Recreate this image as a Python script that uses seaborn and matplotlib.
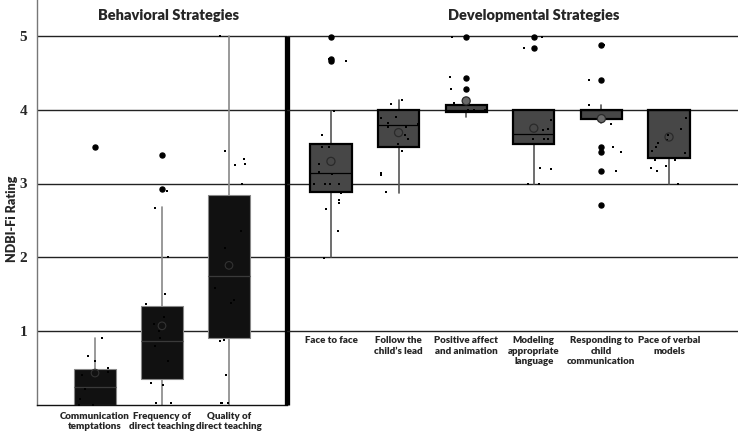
import numpy as np
import pandas as pd
import matplotlib
matplotlib.use("Agg")
import matplotlib.pyplot as plt
import seaborn as sns

# ---------------- data ----------------
left_cats = ["Communication\ntemptations", "Frequency of\ndirect teaching", "Quality of\ndirect teaching"]
right_cats = ["Face to face", "Follow the\nchild\u2019s lead", "Positive affect\nand animation",
              "Modeling\nappropriate\nlanguage", "Responding to\nchild\ncommunication", "Pace of verbal\nmodels"]

left_q1 = [0.0, 0.35, 0.91]
left_med = [0.24, 0.87, 1.74]
left_q3 = [0.49, 1.34, 2.85]
left_wlo = [0.0, 0.0, 0.0]
left_whi = [0.91, 2.68, 5.0]
left_mean = [0.43, 1.07, 1.89]
left_out = [[3.5], [3.38, 2.92], []]
left_pts = [
    [3.5, 0.91, 0.66, 0.59, 0.50, 0.45, 0.40, 0.21, 0.08, 0.0, 0.0],
    [3.38, 2.90, 2.67, 2.0, 1.50, 1.37, 1.19, 1.09, 1.0, 0.79, 0.6, 0.9, 0.29, 0.27, 0.03, 0.03],
    [5.0, 3.44, 3.33, 3.27, 3.25, 3.0, 2.35, 2.13, 1.58, 1.42, 1.38, 0.88, 0.86, 0.40, 0.02, 0.02, 0.02],
]

right_q1 = [2.89, 3.50, 3.97, 3.54, 3.87, 3.35]
right_med = [3.14, 3.79, 4.0, 3.67, 4.0, 4.0]
right_q3 = [3.54, 4.0, 4.07, 4.0, 4.0, 4.0]
right_wlo = [2.0, 2.87, 3.90, 3.0, 3.82, 3.0]
right_whi = [3.98, 4.13, 4.07, 4.0, 4.07, 4.0]
right_mean = [3.30, 3.69, 4.12, 3.75, 3.88, 3.63]
right_out = [[4.98, 4.69, 4.66], [], [4.98, 4.43, 4.28], [4.98, 4.84],
             [4.88, 4.40, 3.49, 3.43, 3.17, 2.71], []]
right_pts = [
    [4.69, 4.66, 3.98, 3.66, 3.50, 3.50, 3.26, 3.15, 3.13, 2.99, 2.99, 2.99, 2.99, 2.87, 2.77, 2.74, 2.65, 2.36, 1.99],
    [4.13, 4.08, 3.90, 3.89, 3.82, 3.81, 3.76, 3.76, 3.66, 3.60, 3.53, 3.44, 3.14, 3.12, 2.88],
    [4.98, 4.44, 4.28, 4.15, 4.09, 4.0, 4.0, 4.0],
    [4.98, 4.84, 3.86, 3.74, 3.73, 3.60, 3.60, 3.60, 3.21, 3.19, 3.0, 3.0],
    [4.88, 4.40, 4.07, 3.81, 3.49, 3.43, 3.17, 2.71, 4.0, 4.0],
    [3.89, 3.74, 3.66, 3.59, 3.55, 3.50, 3.44, 3.41, 3.32, 3.32, 3.24, 3.21, 3.17, 2.99],
]

y_ticks = [1, 2, 3, 4, 5]

# ---------------- style ----------------
sns.set_style("white")
plt.rcParams["font.family"] = ["Lato", "DejaVu Sans"]
np.random.seed(3)
FW = "heavy"

W, H = 738, 434
fig = plt.figure(figsize=(W / 100, H / 100), dpi=100)
y0 = 404.75
bottom = 1 - y0 / H
height = y0 / H
ymax = y0 / 73.75

ax1 = fig.add_axes([37 / W, bottom, 250 / W, height])
ax2 = fig.add_axes([287 / W, bottom, 451 / W, height])
for ax in (ax1, ax2):
    ax.set_facecolor("none")


def make_stats(q1, med, q3, wlo, whi, out):
    return [dict(q1=a, med=b, q3=c, whislo=d, whishi=e, fliers=f, label="")
            for a, b, c, d, e, f in zip(q1, med, q3, wlo, whi, out)]


def long_df(cats, pts):
    rows = [(c, v) for c, vals in zip(cats, pts) for v in vals]
    return pd.DataFrame(rows, columns=["cat", "val"])


flier_style = dict(marker="o", markerfacecolor="black", markeredgecolor="black",
                   markersize=3.6, zorder=3)

# ---- left panel ----
n1 = len(left_cats)
sns.stripplot(data=long_df(left_cats, left_pts), x="cat", y="val", order=left_cats, ax=ax1,
              color="black", size=2.0, jitter=0.25, marker="s", linewidth=0, zorder=3)
ax1.bxp(make_stats(left_q1, left_med, left_q3, left_wlo, left_whi, left_out),
        positions=range(n1), widths=0.62, patch_artist=True, showcaps=False, showfliers=True,
        boxprops=dict(facecolor="#111111", edgecolor="#888888", linewidth=0.8, zorder=2),
        whiskerprops=dict(color="#888888", linewidth=1.2, zorder=1.5),
        medianprops=dict(color="#3a3a3a", linewidth=0.9, zorder=2.5),
        flierprops=flier_style)
ax1.scatter(range(n1), left_mean, s=30, facecolors="none", edgecolors="#333333",
            linewidths=0.8, zorder=4)

# ---- right panel ----
n2 = len(right_cats)
sns.stripplot(data=long_df(right_cats, right_pts), x="cat", y="val", order=right_cats, ax=ax2,
              color="black", size=2.0, jitter=0.3, marker="s", linewidth=0, zorder=3)
ax2.bxp(make_stats(right_q1, right_med, right_q3, right_wlo, right_whi, right_out),
        positions=range(n2), widths=0.61, patch_artist=True, showcaps=False, showfliers=True,
        boxprops=dict(facecolor="#474747", edgecolor="black", linewidth=1.6, zorder=2),
        whiskerprops=dict(color="#555555", linewidth=1.2, zorder=1.5),
        medianprops=dict(color="black", linewidth=0.9, zorder=2.5),
        flierprops=flier_style)
mean_fc = ["none", "none", "#6a6a6a", "none", "#6a6a6a", "none"]
ax2.scatter(range(n2), right_mean, s=34, facecolors=mean_fc, edgecolors="#2a2a2a",
            linewidths=0.9, zorder=4)

# ---- axes cosmetics ----
for ax in (ax1, ax2):
    ax.set_ylim(0, ymax)
    ax.set_xlabel("")
    ax.set_ylabel("")
    for t in y_ticks:
        ax.axhline(t, color="#222222", linewidth=1.0, zorder=1)
    ax.grid(False)

ax1.set_xlim(-0.866, 2.866)
ax2.set_xlim(-0.65, 6.02)

for s in ("top", "right"):
    ax1.spines[s].set_visible(False)
ax1.spines["left"].set_color("#777777")
ax1.spines["left"].set_linewidth(1.0)
ax1.spines["bottom"].set_color("#111111")
ax1.spines["bottom"].set_linewidth(1.0)
for s in ax2.spines.values():
    s.set_visible(False)

# thick separator
ax1.plot([2.866, 2.866], [0, 5], color="black", linewidth=3.8, clip_on=False, zorder=5,
         solid_capstyle="butt")

ax1.set_yticks(y_ticks)
ax1.set_yticklabels([str(t) for t in y_ticks], family=["Liberation Serif"], fontweight="bold",
                    fontsize=11)
ax1.tick_params(axis="y", length=0, pad=7)
ax1.set_xticks(range(n1))
ax1.set_xticklabels(left_cats, fontsize=7.0, fontweight=FW, linespacing=1.2)
ax1.tick_params(axis="x", length=0, pad=5)

ax2.set_yticks([])
ax2.set_xticks([])
for i, lab in enumerate(right_cats):
    ax2.text(i, 0.93, lab, ha="center", va="top", fontsize=7.0, fontweight=FW,
             linespacing=1.2)

ax1.set_ylabel("NDBI-Fi Rating", fontsize=9.0, fontweight=FW)
ax1.yaxis.set_label_coords(-0.075, 0.46)

ax1.text(1.1, 5.28, "Behavioral Strategies", ha="center", va="center", fontsize=10.5,
         fontweight=FW)
ax2.text(3.0, 5.28, "Developmental Strategies", ha="center", va="center", fontsize=10.5,
         fontweight=FW)

fig.savefig("out.png", dpi=100)
